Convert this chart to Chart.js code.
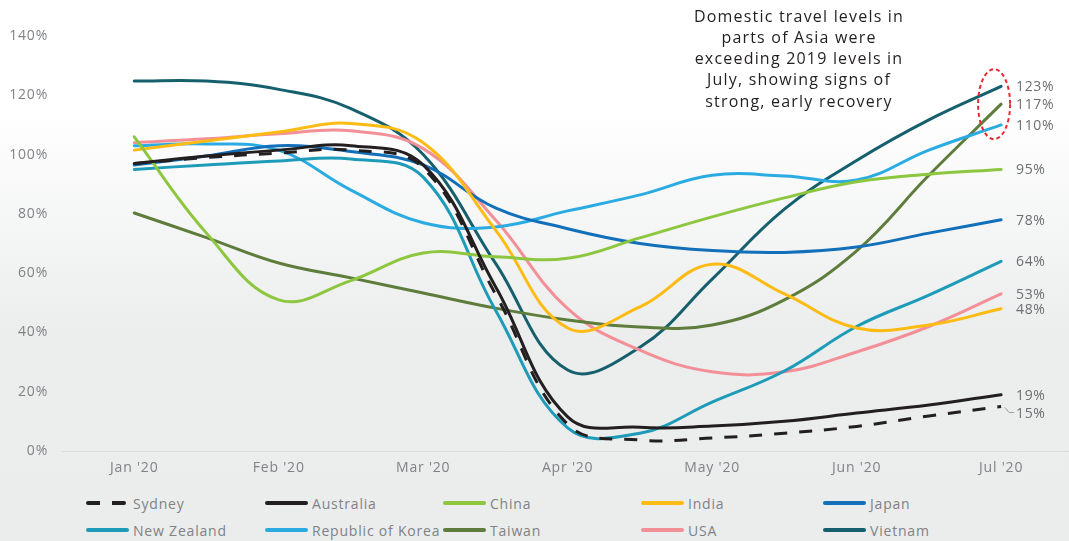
<!DOCTYPE html>
<html>
<head>
<meta charset="utf-8">
<script src="https://cdn.jsdelivr.net/npm/chart.js@4.4.0/dist/chart.umd.min.js"></script>
<style>
    html, body { margin: 0; padding: 0; }
    body {
        width: 1069px; height: 541px; overflow: hidden;
        font-family: "Open Sans", sans-serif;
        background: linear-gradient(to bottom, #ffffff 0px, #ffffff 110px, #eceded 330px, #ebecec 541px);
    }
    .chartWrapper { position: relative; width: 1069px; height: 485px; }
    #legend { position: relative; width: 1069px; height: 56px; }
    .legend-item { position: absolute; display: flex; align-items: center; font-size: 14px; letter-spacing: 0.8px; color: #808285; white-space: nowrap; }
    .legend-line { width: 43px; height: 4px; border-radius: 2px; margin-right: 4px; }
</style>
</head>
<body>
<div class="chartWrapper"><canvas id="myChart" width="1069" height="485"></canvas></div>
<div id="legend"></div>
<script>
// 月ラベル (x軸)
var months = ["Jan '20", "Feb '20", "Mar '20", "Apr '20", "May '20", "Jun '20", "Jul '20"];
// 半月ごとの読み取り位置
var steps = [0, 0.5, 1, 1.5, 2, 2.5, 3, 3.5, 4, 4.5, 5, 5.5, 6];
var yTicks = [0, 20, 40, 60, 80, 100, 120, 140];

// 各系列 (%)
var sydney    = [97, 99, 100.5, 101.5, 95.5, 53, 9, 3.7, 4.4, 6, 8.3, 11.8, 15];
var australia = [97, 99.5, 101.5, 103, 96.5, 55.5, 11.5, 8, 8.4, 10, 12.8, 15.5, 19];
var china     = [106, 73.5, 51, 57.5, 66.8, 65.5, 65, 71.9, 79, 85.4, 90.8, 93.4, 95];
var india     = [101.5, 104.6, 107.6, 110.5, 104, 74.6, 41.5, 48.6, 63, 53, 41.5, 42.5, 48];
var japan     = [96.5, 99.5, 103, 101, 96.5, 82, 75, 70, 67.6, 67, 68.8, 73.5, 78];
var newZealand = [95, 96.5, 97.8, 98.5, 92.4, 47.6, 7.8, 6, 16.5, 27, 42, 52.6, 64];
var korea     = [103, 103.6, 101.5, 88, 77, 75.6, 81, 86.4, 93, 92.8, 91.4, 101.5, 110];
var taiwan    = [80.3, 72, 63.4, 58.4, 53.3, 48.2, 44.2, 41.8, 42.5, 51, 67.5, 93, 117];
var usa       = [104, 105.3, 107, 108, 102, 78, 48, 34, 26.7, 26.7, 33.4, 42, 53];
var vietnam   = [124.8, 124.8, 122, 115.5, 100, 63.4, 27.3, 35, 58, 81.6, 98, 111.7, 123];

var noteLines = [
    'Domestic travel levels in',
    'parts of Asia were',
    'exceeding 2019 levels in',
    'July, showing signs of',
    'strong, early recovery'
];

var tickColor = '#808285';
var fontName = '"Open Sans", sans-serif';

function toPoints(values) {
    return values.map(function (v, i) { return { x: steps[i], y: v }; });
}

function line(label, values, color, dash) {
    return {
        label: label,
        data: toPoints(values),
        borderColor: color,
        backgroundColor: color,
        borderWidth: 3,
        borderDash: dash || [],
        borderCapStyle: dash ? 'butt' : 'round',
        pointRadius: 0,
        tension: 0.4,
        fill: false
    };
}

var datasets = [
    line('Sydney', sydney, '#231f20', [13, 12]),
    line('Australia', australia, '#231f20'),
    line('China', china, '#8dc63f'),
    line('India', india, '#fdbb13'),
    line('Japan', japan, '#1170b9'),
    line('New Zealand', newZealand, '#1d9bb8'),
    line('Republic of Korea', korea, '#2aace2'),
    line('Taiwan', taiwan, '#5e7c3b'),
    line('USA', usa, '#f38f97'),
    line('Vietnam', vietnam, '#16606e')
];
// 右端ラベルのずらし量 (px)
var labelShift = { 'Sydney': 6 };

// 文字間隔 (目盛ラベル用)
var spacingPlugin = {
    id: 'spacing',
    beforeDraw: function (chart) {
        chart.ctx.letterSpacing = '0.8px';
    }
};

// 右端の値ラベル・注記・楕円
var overlayPlugin = {
    id: 'overlay',
    afterDatasetsDraw: function (chart) {
        var ctx = chart.ctx;
        var xs = chart.scales.x, ys = chart.scales.y;
        ctx.save();
        ctx.letterSpacing = '0.6px';
        ctx.font = '14px ' + fontName;
        ctx.fillStyle = '#6d6e71';
        ctx.textBaseline = 'middle';
        ctx.textAlign = 'left';
        chart.data.datasets.forEach(function (ds) {
            var last = ds.data[ds.data.length - 1];
            var px = xs.getPixelForValue(last.x);
            var py = ys.getPixelForValue(last.y);
            var shift = labelShift[ds.label] || 0;
            if (shift) {
                ctx.strokeStyle = '#9a9b9d';
                ctx.lineWidth = 1;
                ctx.beginPath();
                ctx.moveTo(px + 4, py + 1);
                ctx.lineTo(px + 8, py + shift);
                ctx.lineTo(px + 13, py + shift);
                ctx.stroke();
            }
            ctx.fillText(Math.round(last.y) + '%', px + 15, py + shift + 1);
        });

        // 赤い点線の楕円
        ctx.strokeStyle = '#e52b2f';
        ctx.lineWidth = 2;
        ctx.setLineDash([4, 3]);
        ctx.beginPath();
        ctx.ellipse(xs.getPixelForValue(6) - 7, ys.getPixelForValue(117), 16, 35, 0, 0, Math.PI * 2);
        ctx.stroke();
        ctx.setLineDash([]);

        // 注記
        ctx.letterSpacing = '1.2px';
        ctx.font = '16px ' + fontName;
        ctx.fillStyle = '#231f20';
        ctx.textAlign = 'center';
        noteLines.forEach(function (t, i) {
            ctx.fillText(t, 799, 17 + i * 21.3);
        });
        ctx.restore();
    }
};

var ctx = document.getElementById('myChart').getContext('2d');
var myChart = new Chart(ctx, {
    type: 'line',
    data: { datasets: datasets },
    options: {
        responsive: false,
        animation: false,
        events: [],
        layout: { padding: { top: 36, right: 0, left: 0, bottom: 0 } },
        plugins: {
            legend: { display: false },
            tooltip: { enabled: false }
        },
        scales: {
            x: {
                type: 'linear',
                min: -0.5,
                max: 6.47,
                grid: { display: false, drawTicks: false },
                border: { display: true, color: '#d9dadb', width: 1 },
                afterBuildTicks: function (scale) {
                    scale.ticks = months.map(function (m, i) { return { value: i }; });
                },
                afterFit: function (scale) { scale.height = 34; },
                ticks: {
                    color: tickColor,
                    padding: 9,
                    maxRotation: 0,
                    font: { family: fontName, size: 14 },
                    callback: function (v) { return months[v]; }
                }
            },
            y: {
                min: 0,
                max: 140,
                grid: { display: false, drawTicks: false },
                border: { display: false },
                afterBuildTicks: function (scale) {
                    scale.ticks = yTicks.map(function (v) { return { value: v }; });
                },
                afterFit: function (scale) { scale.width = 62; },
                ticks: {
                    color: tickColor,
                    padding: 14,
                    font: { family: fontName, size: 14 },
                    callback: function (v) { return v + '%'; }
                }
            }
        }
    },
    plugins: [spacingPlugin, overlayPlugin]
});

// 凡例 (5列 x 2行)
var legendCols = [86, 265, 443, 641, 823];
var legendRows = [18, 45];
var legendEl = document.getElementById('legend');
myChart.data.datasets.forEach(function (ds, i) {
    var item = document.createElement('div');
    item.className = 'legend-item';
    item.style.left = legendCols[i % 5] + 'px';
    item.style.top = (legendRows[Math.floor(i / 5)] - 10) + 'px';
    item.style.height = '20px';
    var sw = document.createElement('span');
    sw.className = 'legend-line';
    if (ds.borderDash.length) {
        sw.style.background = 'repeating-linear-gradient(to right, ' + ds.borderColor + ' 0 14px, transparent 14px 26px)';
        sw.style.width = '40px';
        sw.style.marginRight = '7px';
    } else {
        sw.style.background = ds.borderColor;
    }
    item.appendChild(sw);
    item.appendChild(document.createTextNode(ds.label));
    legendEl.appendChild(item);
});
</script>
</body>
</html>
